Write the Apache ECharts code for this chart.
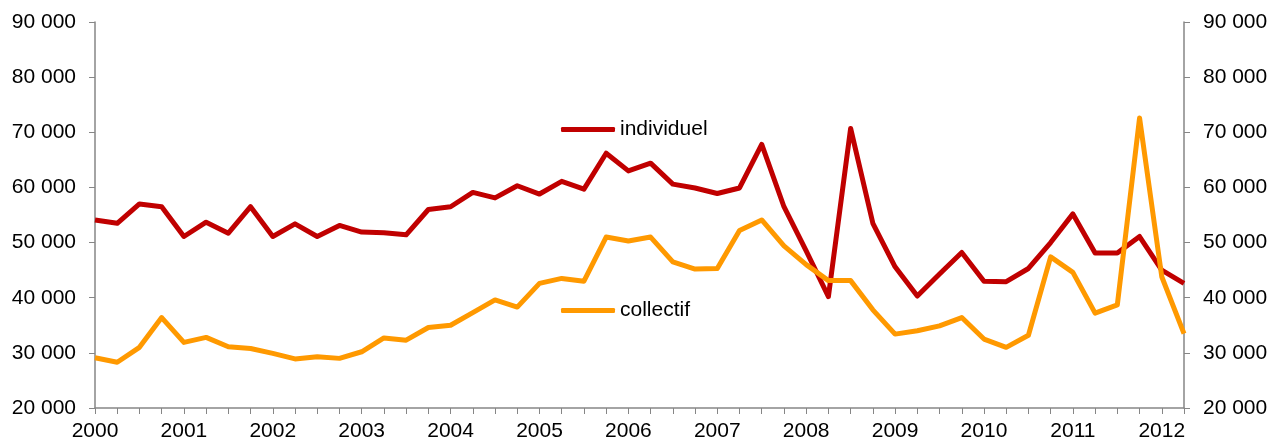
<!DOCTYPE html>
<html>
<head>
<meta charset="utf-8">
<script src="https://cdn.jsdelivr.net/npm/echarts@6/dist/echarts.min.js"></script>
<style>
  html, body { margin: 0; padding: 0; background: #fff; }
  #chart { width: 1274px; height: 443px; }
</style>
</head>
<body>
<div id="chart"></div>
<script>
// Quarterly housing starts, 2000 T1 – 2012 T2
const years = ['2000','2001','2002','2003','2004','2005','2006','2007','2008','2009','2010','2011','2012'];
const quarters = [];
years.forEach(y => ['T1','T2','T3','T4'].forEach(q => quarters.push(y + ' ' + q)));
quarters.length = 50;

const individuel = [
  54100, 53500, 57000, 56500, 51100, 53700, 51700, 56500,
  51100, 53400, 51100, 53100, 51900, 51800, 51400, 56000,
  56500, 59100, 58100, 60300, 58800, 61100, 59700, 66200,
  63000, 64400, 60600, 59900, 58900, 59900, 67800, 56500,
  48500, 40200, 70700, 53500, 45600, 40300, 44300, 48200,
  43000, 42900, 45300, 50000, 55200, 48100, 48100, 51100,
  45000, 42600
];
const collectif = [
  29100, 28300, 31000, 36400, 31900, 32800, 31100, 30800,
  29900, 28900, 29300, 29000, 30200, 32700, 32300, 34600,
  35000, 37300, 39600, 38300, 42600, 43500, 43000, 51000,
  50300, 51000, 46500, 45200, 45300, 52200, 54100, 49400,
  46000, 43100, 43100, 37800, 33400, 34000, 34900, 36400,
  32500, 31000, 33200, 47400, 44600, 37200, 38700, 72600,
  43800, 33500
];

const RED = '#C00000';
const ORANGE = '#FF9900';
const FONT = 'Liberation Sans, Arial, sans-serif';
const FS = 21;

const fmt = v => String(v).replace(/\B(?=(\d{3})+(?!\d))/g, ' ');

const valueAxis = (pos) => ({
  type: 'value',
  position: pos,
  min: 20000,
  max: 90000,
  interval: 10000,
  splitLine: { show: false },
  axisLine: { show: true, lineStyle: { color: '#868686', width: 1.5 } },
  axisTick: { show: true, inside: false, length: 6, lineStyle: { color: '#868686' } },
  axisLabel: { formatter: fmt, fontFamily: FONT, fontSize: FS, color: '#000', margin: 19 }
});

const legendBase = (name, top) => ({
  data: [{ name: name }],
  left: 561,
  top: top,
  padding: 0,
  icon: 'roundRect',
  itemWidth: 54,
  itemHeight: 5,
  selectedMode: false,
  textStyle: { fontFamily: FONT, fontSize: FS, color: '#000' }
});

const chart = echarts.init(document.getElementById('chart'), null, { renderer: 'canvas' });
chart.setOption({
  animation: false,
  backgroundColor: '#fff',
  grid: { left: 95, right: 90, top: 22, bottom: 35, containLabel: false },
  legend: [legendBase('individuel', 119), legendBase('collectif', 300)],
  xAxis: {
    type: 'category',
    data: quarters,
    boundaryGap: false,
    axisLine: { lineStyle: { color: '#868686', width: 1.5 } },
    axisTick: { show: true, interval: 0, length: 6, lineStyle: { color: '#868686' } },
    axisLabel: {
      interval: 3,
      formatter: v => v.slice(0, 4),
      fontFamily: FONT, fontSize: FS, color: '#000', margin: 13
    },
    splitLine: { show: false }
  },
  yAxis: [valueAxis('left'), valueAxis('right')],
  series: [
    {
      name: 'individuel', type: 'line', data: individuel,
      showSymbol: false, symbol: 'none',
      itemStyle: { color: RED },
      lineStyle: { color: RED, width: 5, join: 'round' }
    },
    {
      name: 'collectif', type: 'line', data: collectif,
      showSymbol: false, symbol: 'none',
      itemStyle: { color: ORANGE },
      lineStyle: { color: ORANGE, width: 5, join: 'round' }
    }
  ]
});
</script>
</body>
</html>
